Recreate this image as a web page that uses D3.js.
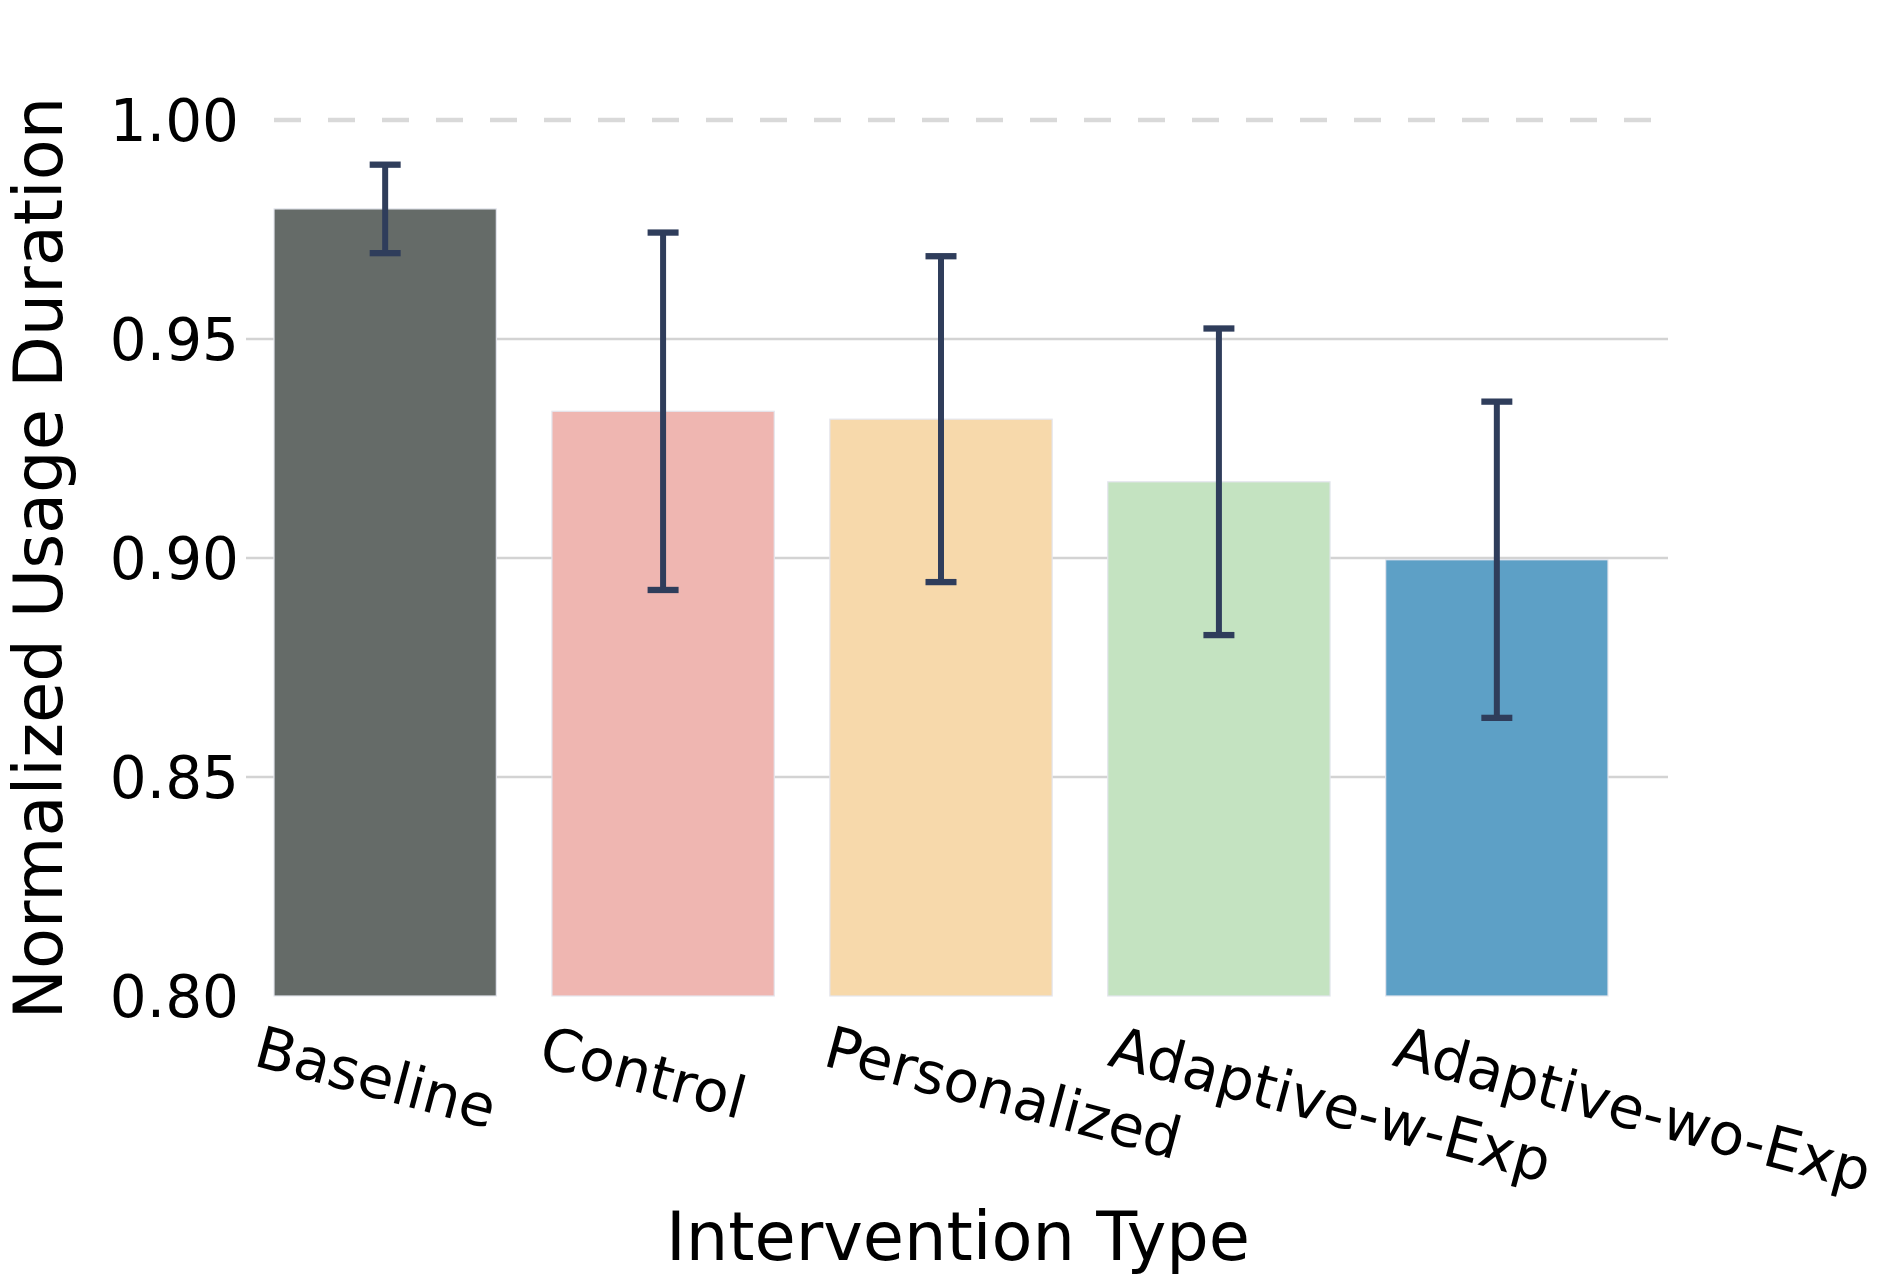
<!DOCTYPE html>
<html>
<head>
<meta charset="utf-8">
<script src="https://cdn.jsdelivr.net/npm/d3@7"></script>
<style>
  html, body { margin: 0; padding: 0; background: #ffffff; }
  svg { display: block; }
  text { font-family: "DejaVu Sans", Verdana, sans-serif; fill: #000; }
</style>
</head>
<body>
<svg id="chart" width="1882" height="1284"></svg>
<script>
// ---- Data ----
const categories = ["Baseline", "Control", "Personalized", "Adaptive-w-Exp", "Adaptive-wo-Exp"];
const meanValues = [0.9797, 0.9335, 0.9317, 0.9174, 0.8996];
const errorValues = [0.0101, 0.0408, 0.0372, 0.0350, 0.0361];
const barColors = ["#656b68", "#efb6b1", "#f7d9ab", "#c4e3c1", "#5da0c6"];
const yTickValues = [0.80, 0.85, 0.90, 0.95, 1.00];
const solidGridValues = [0.85, 0.90, 0.95];
const dashedGridValues = [1.00];
const xTitle = "Intervention Type";
const yTitle = "Normalized Usage Duration";

// ---- Layout ----
const svg = d3.select("#chart");
const gridLeft = 246, gridRight = 1668, dashLeft = 274;

const x = d3.scaleBand()
  .domain(categories)
  .range([274, 1608])
  .paddingInner(0.2)
  .paddingOuter(0);

const y = d3.scaleLinear()
  .domain([0.80, 1.00])
  .range([996, 120]);

const labelX = d3.scalePoint()
  .domain(categories)
  .range([252, 1391]);

const data = categories.map((c, i) => ({ c, v: meanValues[i], e: errorValues[i], col: barColors[i] }));

// Gridlines
svg.append("g").selectAll("line.grid")
  .data(solidGridValues).join("line")
  .attr("x1", gridLeft).attr("x2", gridRight)
  .attr("y1", d => y(d)).attr("y2", d => y(d))
  .attr("stroke", "#d3d3d3").attr("stroke-width", 2.6);

svg.append("g").selectAll("line.dash")
  .data(dashedGridValues).join("line")
  .attr("x1", dashLeft).attr("x2", gridRight)
  .attr("y1", d => y(d)).attr("y2", d => y(d))
  .attr("stroke", "#d9d9d9").attr("stroke-width", 4.3)
  .attr("stroke-dasharray", "27,27");

// Bars
svg.append("g").selectAll("rect")
  .data(data).join("rect")
  .attr("x", d => x(d.c))
  .attr("width", x.bandwidth())
  .attr("y", d => y(d.v))
  .attr("height", d => y(0.80) - y(d.v))
  .attr("fill", d => d.col)
  .attr("stroke", "#e4e6ee")
  .attr("stroke-width", 1.2);

// Error bars
const errColor = "#2f3d5b";
const capW = 31;
const eg = svg.append("g").selectAll("g").data(data).join("g");
eg.append("line")
  .attr("x1", d => x(d.c) + x.bandwidth() / 2)
  .attr("x2", d => x(d.c) + x.bandwidth() / 2)
  .attr("y1", d => y(d.v + d.e))
  .attr("y2", d => y(d.v - d.e))
  .attr("stroke", errColor).attr("stroke-width", 6);
eg.append("line")
  .attr("x1", d => x(d.c) + x.bandwidth() / 2 - capW / 2)
  .attr("x2", d => x(d.c) + x.bandwidth() / 2 + capW / 2)
  .attr("y1", d => y(d.v + d.e)).attr("y2", d => y(d.v + d.e))
  .attr("stroke", errColor).attr("stroke-width", 6.3);
eg.append("line")
  .attr("x1", d => x(d.c) + x.bandwidth() / 2 - capW / 2)
  .attr("x2", d => x(d.c) + x.bandwidth() / 2 + capW / 2)
  .attr("y1", d => y(d.v - d.e)).attr("y2", d => y(d.v - d.e))
  .attr("stroke", errColor).attr("stroke-width", 6.3);

// Y axis
const yAxis = d3.axisLeft(y)
  .tickValues(yTickValues)
  .tickFormat(d3.format(".2f"))
  .tickSize(0)
  .tickPadding(7);
const yg = svg.append("g").attr("transform", `translate(${gridLeft},0)`).call(yAxis);
yg.select(".domain").remove();
yg.selectAll("text")
  .attr("dy", "0.36em")
  .style("font-family", '"DejaVu Sans", Verdana, sans-serif')
  .style("font-size", "58px")
  .attr("fill", "#000");

// X tick labels (rotated)
svg.append("g").selectAll("text.xl")
  .data(categories).join("text")
  .attr("transform", d => `translate(${labelX(d)},1065) rotate(15)`)
  .attr("text-anchor", "start")
  .style("font-size", "58px")
  .text(d => d);

// Axis titles
svg.append("text")
  .attr("x", 958).attr("y", 1260)
  .attr("text-anchor", "middle")
  .style("font-size", "67px")
  .text(xTitle);

svg.append("text")
  .attr("transform", `translate(62,558) rotate(-90)`)
  .attr("text-anchor", "middle")
  .style("font-size", "67px")
  .text(yTitle);
</script>
</body>
</html>
